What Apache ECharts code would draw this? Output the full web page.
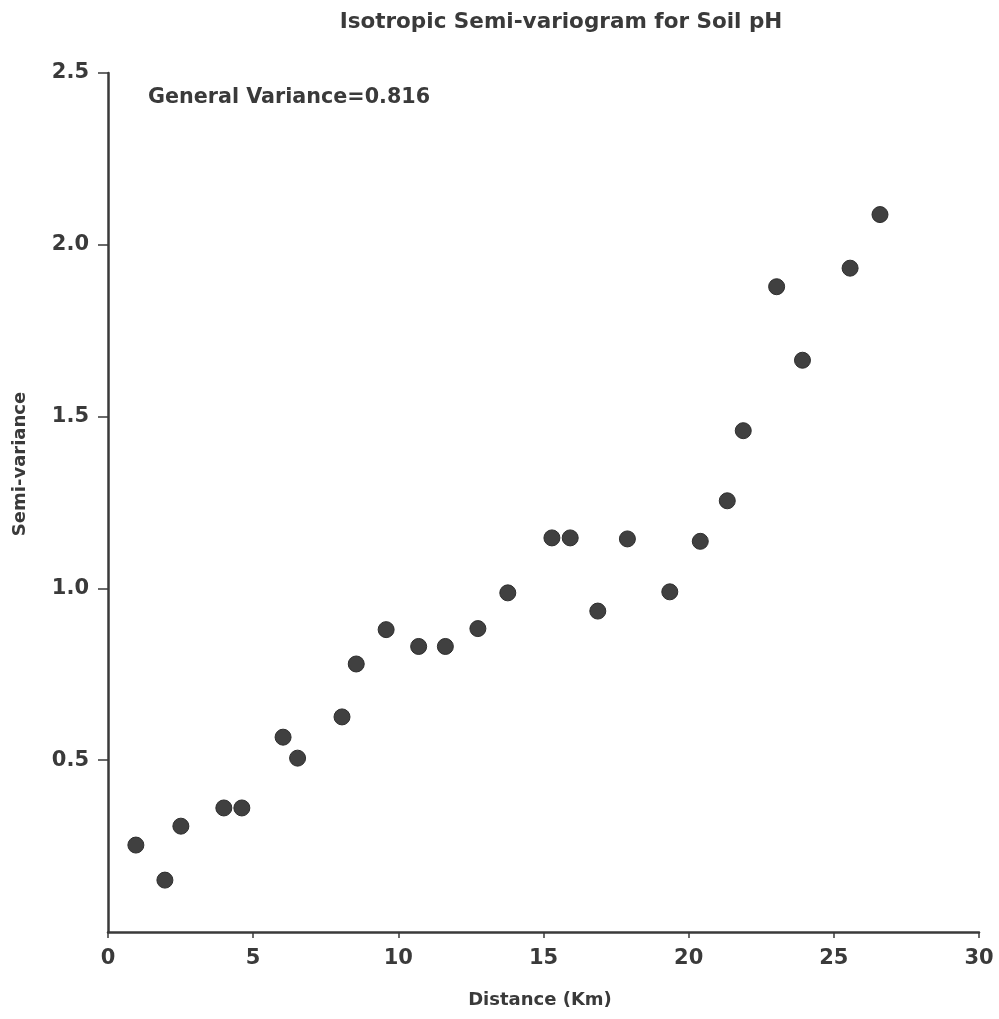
<!DOCTYPE html>
<html>
<head>
<meta charset="utf-8">
<script src="https://cdn.jsdelivr.net/npm/echarts@6/dist/echarts.min.js"></script>
<style>html,body{margin:0;padding:0;background:#fff}#c{width:999px;height:1019px}</style>
</head>
<body>
<div id="c"></div>
<script>
const distance = [0.96, 1.96, 2.51, 3.99, 4.61, 6.03, 6.53, 8.06, 8.55, 9.58, 10.70, 11.62, 12.74, 13.77, 15.29, 15.92, 16.87, 17.89, 19.35, 20.40, 21.33, 21.88, 23.03, 23.92, 25.56, 26.59];
const semiVariance = [0.253, 0.151, 0.308, 0.361, 0.361, 0.567, 0.506, 0.626, 0.780, 0.880, 0.831, 0.831, 0.883, 0.987, 1.147, 1.147, 0.934, 1.144, 0.990, 1.137, 1.255, 1.459, 1.878, 1.664, 1.932, 2.088];
const yTicks = [0.5, 1.0, 1.5, 2.0, 2.5];
const xTicks = [0, 5, 10, 15, 20, 25, 30];
const titleText = 'Isotropic Semi-variogram for Soil pH';
const noteText = 'General Variance=0.816';
const xName = 'Distance (Km)';
const yName = 'Semi-variance';

const ink = '#3a3a3a';
const font = 'DejaVu Sans';
const chart = echarts.init(document.getElementById('c'));
chart.setOption({
  backgroundColor: '#fff',
  animation: false,
  grid: { left: 108, right: 20, top: 73, bottom: 87 },
  xAxis: {
    type: 'value', min: 0, max: 30, interval: 5,
    axisLine: { lineStyle: { color: ink, width: 2.5 } },
    axisTick: { length: 6, lineStyle: { color: ink, width: 1.5 } },
    axisLabel: { fontFamily: font, fontWeight: 'bold', fontSize: 21, color: ink, margin: 16,
      formatter: v => xTicks.includes(v) ? String(v) : '' },
    splitLine: { show: false }
  },
  yAxis: {
    type: 'value', min: 0, max: 2.5, interval: 0.5,
    axisLine: { lineStyle: { color: ink, width: 2.5 } },
    axisTick: { length: 10, lineStyle: { color: ink, width: 1.5 },
      customValues: yTicks },
    axisLabel: { fontFamily: font, fontWeight: 'bold', fontSize: 21, color: ink, margin: 19,
      customValues: yTicks,
      formatter: v => yTicks.includes(v) ? v.toFixed(1) : '' },
    splitLine: { show: false }
  },
  graphic: [
    { type: 'text', x: 561, y: 22,
      style: { text: titleText, fontFamily: font, fontWeight: 'bold', fontSize: 21.5, fill: ink,
        align: 'center', verticalAlign: 'middle' } },
    { type: 'text', x: 148, y: 98,
      style: { text: noteText, fontFamily: font, fontWeight: 'bold', fontSize: 20.7, fill: ink,
        align: 'left', verticalAlign: 'middle' } },
    { type: 'text', x: 540, y: 1000,
      style: { text: xName, fontFamily: font, fontWeight: 'bold', fontSize: 18, fill: ink,
        align: 'center', verticalAlign: 'middle' } },
    { type: 'text', x: 20, y: 464, rotation: Math.PI / 2,
      style: { text: yName, fontFamily: font, fontWeight: 'bold', fontSize: 18, fill: ink,
        align: 'center', verticalAlign: 'middle' } }
  ],
  series: [{
    type: 'scatter',
    data: distance.map((d, i) => [d, semiVariance[i]]),
    symbol: 'circle', symbolSize: 16,
    itemStyle: { color: '#404040', borderColor: '#2e2e2e', borderWidth: 1, opacity: 1 }
  }]
});
</script>
</body>
</html>
